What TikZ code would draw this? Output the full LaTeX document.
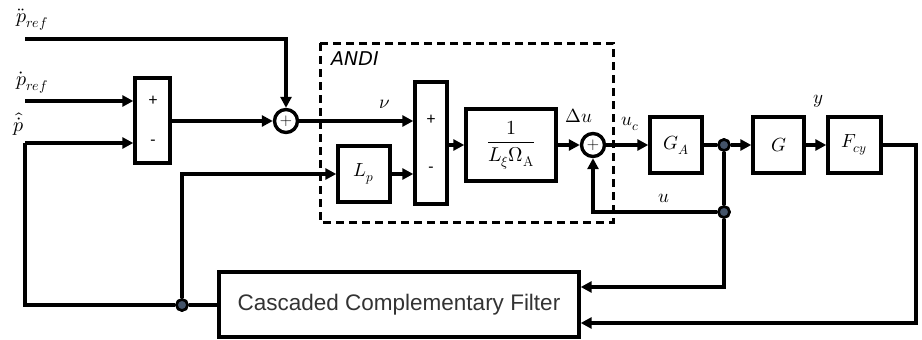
\documentclass[tikz,border=0pt]{standalone}
\usepackage{fontspec}
\usepackage{amsmath}
\usepackage{unicode-math}
\setmathfont{Latin Modern Math}
\usetikzlibrary{arrows.meta,calc}
\newfontfamily\andifont{DejaVu Sans}
\newfontfamily\pmfont{Carlito}
\newfontfamily\ccffont{Liberation Sans}
\definecolor{dotblue}{HTML}{435369}
\definecolor{txtgray}{HTML}{333333}
\begin{document}
\begin{tikzpicture}[x=1pt,y=-1pt,
  lw/.style={line width=3.4pt},
  blk/.style={draw,lw,inner sep=0pt,fill=white,font=\fontsize{19}{22}\selectfont},
  sumc/.style={circle,draw,lw,inner sep=0pt,minimum size=23pt,fill=white,font=\fontsize{17}{20}\selectfont},
  jdot/.style={circle,draw,line width=2.6pt,fill=dotblue,inner sep=0pt,minimum size=11pt},
  arr/.style={lw,-{Triangle[length=11pt,width=11pt]}},
  con/.style={lw},
  lab/.style={inner sep=0pt,font=\fontsize{19}{22}\selectfont},
  plab/.style={inner sep=0pt,font=\fontsize{20}{23}\selectfont},
  pm/.style={inner sep=0pt,font=\pmfont\fontsize{17}{20}\selectfont},
]
\useasboundingbox (0,0) rectangle (922,340);
% dashed ANDI box
\draw[line width=3pt,dash pattern=on 8pt off 5pt] (320,43) rectangle (613,222);
\node[inner sep=0pt,anchor=west,font=\andifont\itshape\fontsize{19}{22}\selectfont] (andi) at (331,59) {ANDI};

% blocks
\node[blk,minimum width=35pt,minimum height=85pt] (b1) at (152.5,120.5) {};
\node[pm] (b1p) at (153,101) {+};
\node[pm] (b1m) at (153,143) {-};
\node[sumc] (s1) at (286,121) {+};
\node[blk,minimum width=32pt,minimum height=122pt] (b2) at (431,143) {};
\node[pm] (b2p) at (431,120) {+};
\node[pm] (b2m) at (431,170) {-};
\node[blk,minimum width=52pt,minimum height=56pt] (Lp) at (364,174) {$L_p$};
\node[blk,minimum width=90pt,minimum height=72pt,font=\fontsize{20}{24}\selectfont] (fr) at (511,145) {$\dfrac{1}{L_\xi\Omega_{\mathrm{A}}}$};
\node[sumc] (s2) at (593,145) {+};
\node[blk,minimum width=52pt,minimum height=56pt] (GA) at (676,145) {$G_A$};
\node[blk,minimum width=51pt,minimum height=56pt] (G) at (778.5,145) {$G$};
\node[blk,minimum width=53pt,minimum height=56pt] (F) at (854.5,145) {$F_{cy}$};
\node[blk,minimum width=360pt,minimum height=65pt,font=\ccffont\fontsize{22.5}{26}\selectfont,text=txtgray] (ccf) at (399,304.5) {Cascaded Complementary Filter};

% junctions
\node[jdot] (d1) at (724,145) {};
\node[jdot] (d2) at (724,212) {};
\node[jdot] (d3) at (182,305) {};

% coordinates
\coordinate (i1) at (25,39);
\coordinate (i2) at (25,101);
\coordinate (i3) at (25,143);
\coordinate (c1) at (25,305);
\coordinate (c2) at (182,174);
\coordinate (c3) at (916,145);
\coordinate (c4) at (916,323);
\coordinate (c5) at (724,287);

% labels
\node[plab] (lpdd) at (32,20) {$\ddot{p}_{ref}$};
\node[plab] (lpd) at (32,83) {$\dot{p}_{ref}$};
\node[plab] (lph) at (19,124) {$\hat{\dot{p}}$};
\node[lab] (lnu) at (385,104) {$\nu$};
\node[lab] (ldu) at (579,116) {$\Delta u$};
\node[lab] (luc) at (630,124) {$u_c$};
\node[lab] (ly) at (818,101) {$y$};
\node[lab] (lu) at (664,198) {$u$};

% connectors
\draw[arr] (i1) -- (i1 -| s1) -- (s1.north);
\draw[arr] (i2) -- (i2 -| b1.west);
\draw[arr] (i3) -- (i3 -| b1.west);
\draw[con] (i3) -- (c1) -- (d3);
\draw[con] (d3) -- (ccf.west |- d3);
\draw[arr] (b1.east |- s1) -- (s1.west);
\draw[arr] (s1.east) -- (s1 -| b2.west);
\draw[arr] (d3) -- (c2) -- (Lp.west);
\draw[arr] (Lp.east) -- (Lp -| b2.west);
\draw[arr] (fr.west -| b2.east) -- (fr.west);
\draw[arr] (fr.east) -- (s2.west);
\draw[arr] (s2.east) -- (GA.west);
\draw[con] (GA.east) -- (d1);
\draw[arr] (d1) -- (G.west);
\draw[arr] (G.east) -- (F.west);
\draw[arr] (F.east) -- (c3) -- (c4) -- (c4 -| ccf.east);
\draw[con] (d1) -- (d2);
\draw[arr] (d2) -- (d2 -| s2) -- (s2.south);
\draw[arr] (d2) -- (c5) -- (c5 -| ccf.east);
% redraw dots on top
\node[jdot] at (d1) {};
\node[jdot] at (d2) {};
\node[jdot] at (d3) {};
\end{tikzpicture}
\end{document}
